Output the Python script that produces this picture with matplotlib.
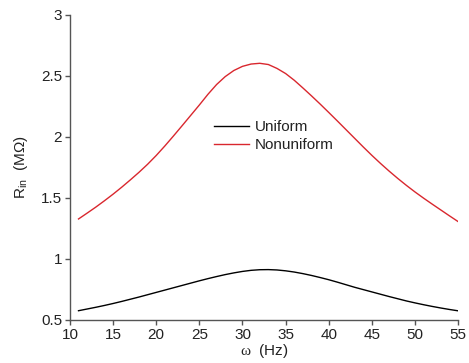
import matplotlib
matplotlib.use("Agg")
import matplotlib.pyplot as plt

# input resistance vs. frequency, sampled every 1 Hz from 11 to 55 Hz
freq_hz = list(range(11, 56))
rin_uniform = [0.576, 0.590, 0.604, 0.619, 0.635, 0.652, 0.670, 0.688,
               0.707, 0.726, 0.745, 0.764, 0.783, 0.802, 0.821, 0.839,
               0.856, 0.872, 0.886, 0.898, 0.907, 0.912, 0.913, 0.910,
               0.903, 0.893, 0.880, 0.865, 0.848, 0.830, 0.810, 0.789,
               0.768, 0.749, 0.730, 0.711, 0.692, 0.674, 0.656, 0.640,
               0.625, 0.611, 0.598, 0.586, 0.575]
rin_nonuniform = [1.328, 1.376, 1.425, 1.477, 1.531, 1.588, 1.648, 1.710,
                  1.776, 1.848, 1.926, 2.008, 2.092, 2.177, 2.262, 2.350,
                  2.430, 2.495, 2.545, 2.579, 2.598, 2.604, 2.594, 2.562,
                  2.520, 2.465, 2.402, 2.337, 2.270, 2.201, 2.131, 2.060,
                  1.989, 1.918, 1.849, 1.783, 1.720, 1.660, 1.603, 1.549,
                  1.498, 1.449, 1.401, 1.353, 1.306]

x_ticks = [10, 15, 20, 25, 30, 35, 40, 45, 50, 55]
y_ticks = [0.5, 1, 1.5, 2, 2.5, 3]
y_tick_labels = ["0.5", "1", "1.5", "2", "2.5", "3"]

plt.rcParams["font.family"] = ["Liberation Sans", "DejaVu Sans"]
plt.rcParams["mathtext.fontset"] = "custom"
plt.rcParams["mathtext.rm"] = "Liberation Sans"
plt.rcParams["mathtext.it"] = "Liberation Serif"

text_col = "#222222"
spine_col = "#555555"

fig = plt.figure(figsize=(4.69, 3.63), dpi=100)
ax = fig.add_axes([0.149, 0.1185, 0.828, 0.8402])

ax.plot(freq_hz, rin_uniform, color="black", lw=1.0, label="Uniform")
ax.plot(freq_hz, rin_nonuniform, color="#d9272e", lw=1.0, label="Nonuniform")

ax.set_xlim(10, 55)
ax.set_ylim(0.5, 3)
ax.set_xticks(x_ticks)
ax.set_yticks(y_ticks)
ax.set_yticklabels(y_tick_labels)

for side in ("top", "right"):
    ax.spines[side].set_visible(False)
for side in ("left", "bottom"):
    ax.spines[side].set_color(spine_col)
    ax.spines[side].set_linewidth(1.0)

ax.tick_params(direction="out", length=3.5, width=1.0, color=spine_col,
               labelsize=11, labelcolor=text_col, pad=2)

ax.set_xlabel(r"$\omega$  (Hz)", fontsize=11, color=text_col, labelpad=0)
ax.set_ylabel(r"R$_{\mathregular{in}}$  (M$\Omega$)", fontsize=11,
              color=text_col, labelpad=8)

leg = ax.legend(loc="upper left", bbox_to_anchor=(0.372, 0.656),
                frameon=False, fontsize=11, borderpad=0, borderaxespad=0,
                handlelength=2.3, handletextpad=0.35, labelspacing=0.3)
for t in leg.get_texts():
    t.set_color(text_col)

fig.savefig("out.png", dpi=100)
